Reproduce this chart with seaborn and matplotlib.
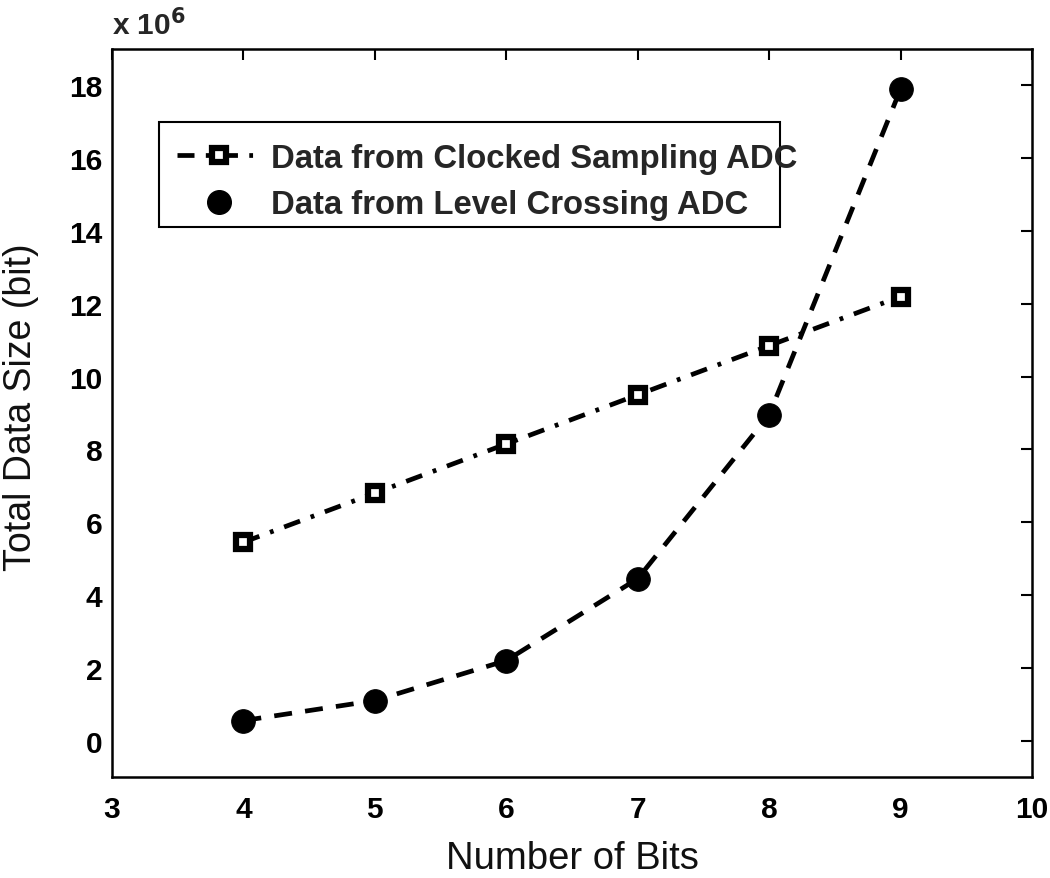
import matplotlib
matplotlib.use("Agg")
import matplotlib.pyplot as plt
from matplotlib.lines import Line2D
from matplotlib.patches import Rectangle
import seaborn as sns
import pandas as pd

bits = [4, 5, 6, 7, 8, 9]
clocked = [5.45, 6.8, 8.15, 9.5, 10.85, 12.2]      # x 10^6 bit
level = [0.55, 1.1, 2.2, 4.45, 8.95, 17.9]          # x 10^6 bit
label_clocked = "Data from Clocked Sampling ADC"
label_level = "Data from Level Crossing ADC"

sns.set_theme(style="white")
plt.rcParams['font.family'] = ['Liberation Sans', 'DejaVu Sans']

fig = plt.figure(figsize=(10.5, 8.79), dpi=100)
ax = fig.add_axes([0.10667, 0.1149, 0.8762, 0.8282])

df_c = pd.DataFrame({"bits": bits, "size": clocked})
df_l = pd.DataFrame({"bits": bits, "size": level})

lw = 3.4
dashdot = (0, (3.6, 2.4, 0.8, 2.4))
dashed = (0, (3.8, 2.8))
sns.lineplot(data=df_c, x="bits", y="size", ax=ax, color="black", lw=lw,
             marker="s", markersize=9.5, markerfacecolor="white",
             markeredgecolor="black", markeredgewidth=4.5,
             dashes=False, linestyle=dashdot)
sns.lineplot(data=df_l, x="bits", y="size", ax=ax, color="black", lw=lw,
             marker="o", markersize=17, markerfacecolor="black",
             markeredgecolor="black", dashes=False, linestyle=dashed)

ax.set_xlim(3, 10)
ax.set_ylim(-1, 19)
ax.set_xticks(range(3, 11))
ax.set_yticks(range(0, 19, 2))
ax.tick_params(direction="in", length=8, width=1.5, top=True, right=True,
               labelsize=21.5, colors="black")
ax.tick_params(axis="x", pad=13)
ax.tick_params(axis="y", pad=7)
for t in ax.get_xticklabels() + ax.get_yticklabels():
    t.set_fontweight("bold")
for s in ax.spines.values():
    s.set_linewidth(1.8)
    s.set_color("black")

ax.set_xlabel("Number of Bits", fontsize=27.5, labelpad=12, color="#111111")
ax.set_ylabel("Total Data Size (bit)", fontsize=27, color="#111111")
ax.yaxis.set_label_coords(-0.0790, 0.5096)
ax.text(0.0, 1.012, "x 10$^{\\mathbf{6}}$", transform=ax.transAxes, fontsize=21.5,
        fontweight="bold", ha="left", va="bottom")

# legend frame drawn separately (text overflows it, as in the reference)
ax.add_patch(Rectangle((0.0511, 0.7555), 0.6750, 0.1442, transform=ax.transAxes,
                       facecolor="white", edgecolor="black", lw=1.5, zorder=4))

handles = [
    Line2D([0], [0], color="black", lw=lw, linestyle=dashdot,
           marker="s", markersize=9.5, markerfacecolor="white",
           markeredgecolor="black", markeredgewidth=4.5),
    Line2D([0], [0], color="black", lw=0, marker="o", markersize=17,
           markerfacecolor="black"),
]
leg = ax.legend(handles, [label_clocked, label_level], loc="upper left",
                bbox_to_anchor=(0.0707, 0.8709), frameon=False,
                prop={"size": 23.7, "weight": "bold"},
                handlelength=2.55, handletextpad=0.3, borderpad=0,
                borderaxespad=0, labelspacing=0.46)
leg.set_zorder(5)

fig.savefig("out.png", dpi=100)
